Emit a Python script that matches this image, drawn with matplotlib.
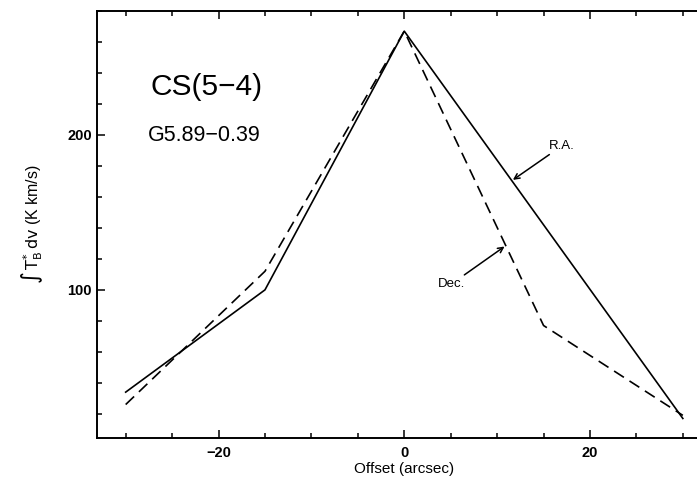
import matplotlib
matplotlib.use("Agg")
import matplotlib.pyplot as plt
from matplotlib.ticker import MultipleLocator

# offsets (arcsec) and integrated intensity (K km/s)
offset = [-30, -15, 0, 15, 30]
ra_vals = [34, 100, 267, 142, 17]
dec_vals = [26, 112, 267, 77, 19]

line_name = "CS(5\u22124)"
source = "G5.89\u22120.39"

plt.rcParams["font.family"] = ["Liberation Sans", "DejaVu Sans"]
plt.rcParams["mathtext.fontset"] = "dejavusans"

fig = plt.figure(figsize=(6.97, 4.78), dpi=100)
ax = fig.add_axes([0.139, 0.084, 0.882, 0.893])

ax.plot(offset, ra_vals, color="black", lw=1.2)
ax.plot(offset, dec_vals, color="black", lw=1.2, ls=(0, (7, 4)))

ax.set_xlim(-33.1, 33.1)
ax.set_ylim(4.5, 280)

ax.xaxis.set_major_locator(MultipleLocator(20))
ax.xaxis.set_minor_locator(MultipleLocator(5))
ax.yaxis.set_major_locator(MultipleLocator(100))
ax.yaxis.set_minor_locator(MultipleLocator(20))
ax.tick_params(which="both", direction="in", top=True, right=True, labelsize=10.5, width=1.1)
ax.tick_params(which="major", length=6)
ax.tick_params(which="minor", length=3.5)
ax.tick_params(axis="x", pad=6)
for lab in ax.get_xticklabels() + ax.get_yticklabels():
    lab.set_fontweight("bold")
for sp in ax.spines.values():
    sp.set_linewidth(1.4)

ax.set_xlabel("Offset (arcsec)", fontsize=11, labelpad=1)
ax.set_ylabel(r"$\int\,\mathrm{T}^{*}_{\mathrm{B}}\,\mathrm{dv}$ (K km/s)", fontsize=11.5, labelpad=16)

ax.text(-27.3, 231, line_name, fontsize=21.5, va="center")
ax.text(-27.6, 199.5, source, fontsize=15.5, va="center")

ax.annotate("R.A.", xy=(11.7, 171), xytext=(15.6, 193), fontsize=9.5, va="center",
            arrowprops=dict(arrowstyle="->", color="black", lw=1.1, shrinkA=0, shrinkB=0))
ax.annotate("Dec.", xy=(10.8, 128), xytext=(6.6, 104), fontsize=9.5, va="center", ha="right",
            arrowprops=dict(arrowstyle="->", color="black", lw=1.1, shrinkA=0, shrinkB=0))

fig.savefig("out.png", dpi=100)
